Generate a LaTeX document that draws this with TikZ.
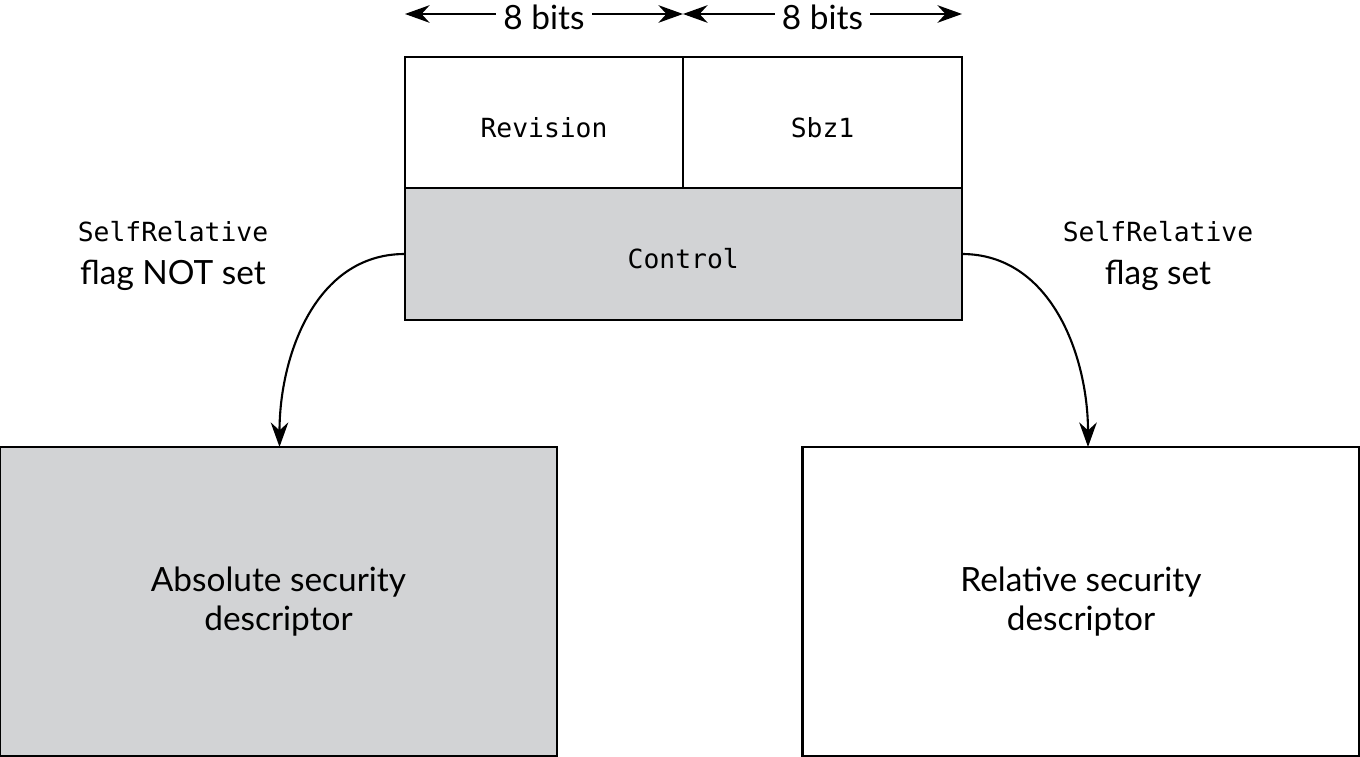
\documentclass[tikz,border=0pt]{standalone}
\usepackage{fontspec}
\setmainfont{Lato}
\newfontfamily\codefont{DejaVu Sans Mono}
\usetikzlibrary{arrows.meta,positioning}
\definecolor{boxgray}{RGB}{210,211,213}
\begin{document}
\begin{tikzpicture}[
    >={Stealth[length=7pt,width=5pt]},
    cell/.style={draw, line width=0.6pt, outer sep=0pt, minimum width=2.785cm, minimum height=1.315cm, inner sep=0pt, text height=0.3cm, text depth=0pt, font=\codefont\fontsize{7.5}{9}\selectfont},
    bigbox/.style={draw, line width=0.6pt, outer sep=0pt, minimum width=5.57cm, minimum height=3.09cm, inner sep=0pt, align=center, font=\fontsize{9.5}{11}\selectfont},
    flaglbl/.style={align=center, font=\fontsize{9.5}{11.5}\selectfont}]
        % the frame
        \useasboundingbox (0,0) rectangle (13.6,7.56);
        %% the header
        \node[cell] (rev) at (5.44,6.335) {Revision};
        \node[cell, right=0pt of rev] (sbz) {Sbz1};
        \node[cell, fill=boxgray, minimum width=5.57cm, below=0pt of rev.south west, anchor=north west] (ctl) {Control};
        %% bit widths
        \coordinate (b0) at (4.05,7.42);
        \coordinate (b1) at (6.83,7.42);
        \coordinate (b2) at (9.62,7.42);
        \foreach \a/\b in {b0/b1,b1/b2}
        {
          \draw[<->, line width=0.6pt] (\a) -- (\b) node[midway, fill=white, inner sep=2pt, yshift=-0.03cm, font=\fontsize{9.5}{11}\selectfont] {8 bits};
        }
        %% the two descriptors
        \node[bigbox, fill=boxgray] (abs) at (2.785,1.545) {Absolute security\\descriptor};
        \node[bigbox] (rel) at (10.81,1.545) {Relative security\\descriptor};
        % the flag labels
        \node[flaglbl] (lflag) at (1.73,5.0) {{\codefont\fontsize{7.5}{9}\selectfont SelfRelative}\\[0.03cm]flag NOT set};
        \node[flaglbl] (rflag) at (11.58,5.0) {{\codefont\fontsize{7.5}{9}\selectfont SelfRelative}\\[0.03cm]flag set};
        \coordinate (lend) at ([xshift=0.01cm]abs.north);
        \coordinate (rend) at ([xshift=0.07cm]rel.north);
        \draw[->, line width=0.6pt] (ctl.west) to[out=180, in=90] (lend);
        \draw[->, line width=0.6pt] (ctl.east) to[out=0, in=90] (rend);
      \end{tikzpicture}
\end{document}
